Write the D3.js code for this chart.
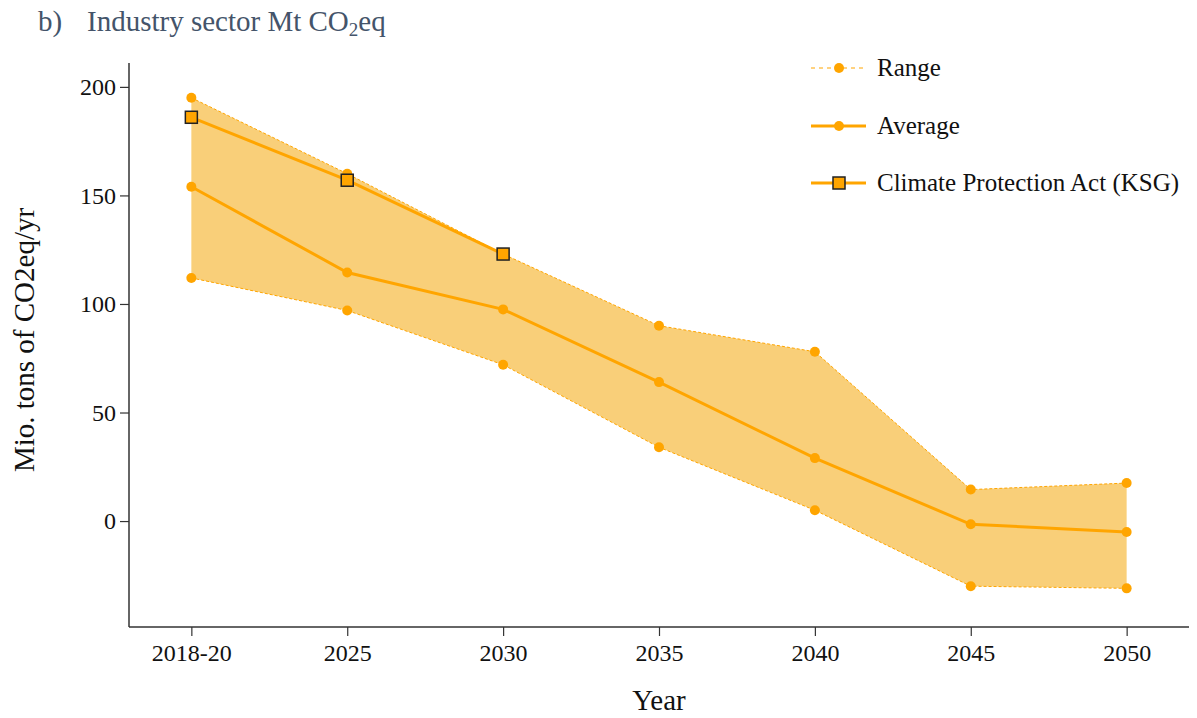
<!doctype html>
<html lang="en">
<head>
<meta charset="utf-8">
<script src="https://d3js.org/d3.v7.min.js"></script>
<style>
    html, body { margin: 0; padding: 0; background: #fff; }
    svg { display: block; font-family: "Liberation Serif", "DejaVu Serif", serif; }
</style>
</head>
<body>
<svg id="chart" width="1197" height="718"></svg>
<script>
    // data
    var years = ["2018-20", "2025", "2030", "2035", "2040", "2045", "2050"];
    var rangeHigh = [195, 160, 123, 90, 78, 14.5, 17.5];
    var rangeLow = [112, 97, 72, 34, 5, -30, -31];
    var average = [154, 114.5, 97.5, 64, 29, -1.5, -5];
    var ksgYears = ["2018-20", "2025", "2030"];
    var ksg = [186, 157, 123];
    var yTicks = [0, 50, 100, 150, 200];

    var orange = "#FFA500";
    var fillCol = "#F9CF79";

    var svg = d3.select("#chart");
    var plotLeft = 129, plotRight = 1189, plotTop = 63, plotBottom = 627;

    var x = d3.scalePoint().domain(years).range([plotLeft, plotRight]).padding(0.4);
    var y = d3.scaleLinear().domain([-48.8, 211]).range([plotBottom, plotTop]);

    // title
    var title = svg.append("text")
        .attr("x", 38).attr("y", 31)
        .attr("fill", "#44546A")
        .style("font-size", "29px");
    title.append("tspan").text("b)");
    title.append("tspan").attr("x", 87).text("Industry sector Mt CO");
    title.append("tspan").attr("dy", 5).style("font-size", "19px").text("2");
    title.append("tspan").attr("dy", -5).text("eq");

    // range band
    var band = years.map(function (d, i) { return {year: d, lo: rangeLow[i], hi: rangeHigh[i]}; });
    svg.append("path")
        .datum(band)
        .attr("fill", fillCol)
        .attr("d", d3.area()
            .x(function (d) { return x(d.year); })
            .y0(function (d) { return y(d.lo); })
            .y1(function (d) { return y(d.hi); }));

    var dashed = function (vals) {
        svg.append("path")
            .datum(vals)
            .attr("fill", "none")
            .attr("stroke", orange)
            .attr("stroke-width", 1)
            .attr("stroke-dasharray", "3,2")
            .attr("d", d3.line()
                .x(function (d, i) { return x(years[i]); })
                .y(function (d) { return y(d); }));
        svg.selectAll(null).data(vals).enter().append("circle")
            .attr("cx", function (d, i) { return x(years[i]); })
            .attr("cy", function (d) { return y(d); })
            .attr("r", 5)
            .attr("fill", orange);
    };
    dashed(rangeHigh);
    dashed(rangeLow);

    // average
    svg.append("path")
        .datum(average)
        .attr("fill", "none")
        .attr("stroke", orange)
        .attr("stroke-width", 3)
        .attr("d", d3.line()
            .x(function (d, i) { return x(years[i]); })
            .y(function (d) { return y(d); }));
    svg.selectAll(null).data(average).enter().append("circle")
        .attr("cx", function (d, i) { return x(years[i]); })
        .attr("cy", function (d) { return y(d); })
        .attr("r", 5)
        .attr("fill", orange);

    // KSG
    svg.append("path")
        .datum(ksg)
        .attr("fill", "none")
        .attr("stroke", orange)
        .attr("stroke-width", 3)
        .attr("d", d3.line()
            .x(function (d, i) { return x(ksgYears[i]); })
            .y(function (d) { return y(d); }));
    svg.selectAll(null).data(ksg).enter().append("rect")
        .attr("x", function (d, i) { return x(ksgYears[i]) - 6; })
        .attr("y", function (d) { return y(d) - 6; })
        .attr("width", 12).attr("height", 12)
        .attr("fill", orange)
        .attr("stroke", "#222")
        .attr("stroke-width", 1.5);

    // axes
    var xAxis = svg.append("g")
        .attr("transform", "translate(0," + plotBottom + ")")
        .call(d3.axisBottom(x).tickSize(9).tickPadding(8));
    var yAxis = svg.append("g")
        .attr("transform", "translate(" + plotLeft + ",0)")
        .call(d3.axisLeft(y).tickValues(yTicks).tickSize(9).tickPadding(4));
    [xAxis, yAxis].forEach(function (g) {
        g.select(".domain").attr("stroke", "#333").attr("stroke-width", 1.5);
        g.selectAll(".tick line").attr("stroke", "#333").attr("stroke-width", 1.2);
        g.selectAll(".tick text")
            .attr("fill", "#111")
            .style("font-family", "Liberation Serif, serif")
            .style("font-size", "24px");
    });
    // remove outer ticks from domain paths
    xAxis.select(".domain").attr("d", "M" + plotLeft + ",0H" + plotRight);
    yAxis.select(".domain").attr("d", "M0," + plotTop + "V" + plotBottom);

    svg.append("text")
        .attr("x", (plotLeft + plotRight) / 2).attr("y", 710)
        .attr("text-anchor", "middle")
        .attr("fill", "#111")
        .style("font-size", "29px")
        .text("Year");
    svg.append("text")
        .attr("transform", "translate(34,340) rotate(-90)")
        .attr("text-anchor", "middle")
        .attr("fill", "#111")
        .style("font-size", "29px")
        .text("Mio. tons of CO2eq/yr");

    // legend
    var legendNames = ["Range", "Average", "Climate Protection Act (KSG)"];
    var legendY = [68, 126, 183];
    var lg = svg.append("g");
    legendNames.forEach(function (name, i) {
        var ly = legendY[i];
        lg.append("line")
            .attr("x1", 811).attr("x2", 866).attr("y1", ly).attr("y2", ly)
            .attr("stroke", orange)
            .attr("stroke-width", i === 0 ? 1 : 3)
            .attr("stroke-dasharray", i === 0 ? "4,4" : null);
        if (i < 2) {
            lg.append("circle").attr("cx", 839).attr("cy", ly).attr("r", 5).attr("fill", orange);
        } else {
            lg.append("rect").attr("x", 833).attr("y", ly - 6).attr("width", 12).attr("height", 12)
                .attr("fill", orange).attr("stroke", "#222").attr("stroke-width", 1.5);
        }
        lg.append("text")
            .attr("x", 877).attr("y", ly + 8)
            .attr("fill", "#111")
            .style("font-size", "25px")
            .text(name);
    });
</script>
</body>
</html>
